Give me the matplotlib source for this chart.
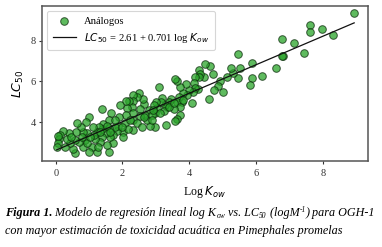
import matplotlib
matplotlib.use("Agg")
import matplotlib.pyplot as plt
import numpy as np

log_kow = [8.94, 8.30, 7.97, 7.63, 7.63, 7.44, 7.14, 6.79, 6.80, 6.77, 6.59, 6.18, 5.88, 5.89, 5.82,
           5.46, 5.52, 5.45, 5.32, 5.24, 5.01, 5.12, 4.92, 4.87, 4.74, 4.71, 4.62, 4.60, 4.48, 4.43,
           4.30, 4.31, 4.30, 4.25, 4.16, 4.13, 4.17, 4.11, 4.09, 3.99, 3.93, 3.89, 3.81, 3.79, 3.73,
           3.63, 3.58, 3.68, 3.63, 3.71, 3.71, 3.63, 3.58, 3.53, 3.45, 3.38, 3.33, 3.27, 3.23, 3.19,
           3.15, 3.10, 3.03, 3.01, 2.98, 2.93, 3.31, 2.98, 2.81, 2.73, 2.78, 2.68, 2.65, 2.61, 2.53,
           2.53, 2.48, 2.43, 2.33, 2.31, 2.28, 2.33, 2.31, 2.33, 2.21, 2.13, 2.11, 2.11, 2.08, 2.03,
           2.03, 1.93, 1.91, 1.88, 1.85, 1.78, 1.73, 1.71, 1.65, 1.61, 1.61, 1.63, 1.61, 1.53, 1.51,
           1.43, 1.39, 1.39, 1.38, 1.33, 1.30, 1.23, 1.18, 1.23, 1.13, 1.15, 1.09, 1.01, 1.01, 0.95,
           0.91, 0.88, 0.83, 0.81, 0.75, 0.71, 0.63, 0.61, 0.58, 0.58, 0.51, 0.43, 0.41, 0.33, 0.29,
           0.21, 0.13, 0.11, 0.08, 0.03, 0.08,
           0.78, 0.95, 1.28, 1.53, 1.78, 2.23, 2.43, 2.65, 2.88, 3.13, 2.91, 3.38, 3.53, 3.81, 2.88,
           2.58, 2.18, 1.98, 1.33, 1.63, 1.03, 0.45]
lc50 = [9.34, 8.30, 8.57, 8.79, 8.44, 7.41, 7.87, 8.07, 7.26, 7.25, 6.67, 6.26, 6.89, 6.16, 5.82,
        7.34, 6.66, 6.16, 6.43, 6.66, 5.49, 6.20, 6.03, 5.77, 5.56, 6.36, 6.75, 5.13, 6.85, 6.20,
        6.56, 6.36, 6.20, 5.61, 6.20, 5.93, 5.67, 5.47, 4.95, 5.57, 5.31, 5.87, 5.41, 5.00, 5.70,
        6.03, 6.10, 5.25, 4.98, 4.75, 4.36, 4.13, 4.07, 4.62, 5.15, 5.00, 4.72, 4.84, 4.56, 5.16,
        5.00, 5.70, 4.67, 5.00, 4.43, 4.84, 3.85, 3.77, 3.80, 4.10, 4.59, 4.34, 4.89, 5.11, 4.62,
        4.30, 5.44, 5.25, 5.33, 5.05, 4.75, 4.46, 4.10, 3.61, 5.05, 4.67, 4.34, 5.02, 3.97, 3.52,
        3.28, 4.82, 4.26, 3.80, 3.57, 3.77, 3.36, 2.98, 4.43, 4.10, 3.69, 3.28, 2.54, 2.87, 3.48,
        3.90, 4.62, 3.64, 3.28, 3.03, 3.77, 3.52, 3.15, 2.54, 3.77, 3.36, 2.79, 2.54, 4.23, 3.48,
        4.02, 3.11, 2.79, 3.52, 3.74, 3.03, 3.93, 3.52, 3.11, 2.46, 2.66, 2.95, 3.44, 3.15, 2.79,
        3.57, 3.36, 3.15, 2.95, 2.79, 3.31,
        3.28, 2.95, 2.79, 3.80, 4.10, 4.10, 3.93, 4.26, 4.34, 4.43, 4.59, 4.75, 4.92, 5.08, 4.10,
        3.77, 3.64, 3.77, 3.52, 3.52, 3.28, 3.28]

intercept = 2.61
slope = 0.701
x_ticks = [0, 2, 4, 6, 8]
y_ticks = [4, 6, 8]

plt.rcParams['font.family'] = ['Liberation Serif', 'DejaVu Serif']

fig = plt.figure(figsize=(3.82, 2.47), dpi=100)
ax = fig.add_axes([0.110, 0.348, 0.853, 0.628])

ax.scatter(log_kow, lc50, s=30, color='#2aa42a', alpha=0.75, edgecolors='#0a2a0a',
           linewidths=0.7, label='Análogos', zorder=2)
xl = np.linspace(min(log_kow), max(log_kow), 50)
ax.plot(xl, intercept + slope * xl, color='#111111', lw=0.9, zorder=3,
        label=r'$LC_{50}$ = 2.61 + 0.701 log $K_{ow}$')

ax.set_xlim(-0.41, 9.35)
ax.set_ylim(2.08, 9.71)
ax.set_xticks(x_ticks)
ax.set_yticks(y_ticks)
ax.tick_params(labelsize=7.5, length=2.5, width=0.8, colors='#333333', pad=2)
ax.tick_params(axis='x', pad=3.5)
for sp in ax.spines.values():
    sp.set_color('#555555')
    sp.set_linewidth(1.1)
ax.set_xlabel(r'Log $K_{ow}$', fontsize=8.5, labelpad=4)
ax.set_ylabel(r'$LC_{50}$', fontsize=9, labelpad=3)

leg = ax.legend(loc='upper left', fontsize=7.6, frameon=True, borderaxespad=0.5,
                handlelength=2.2, labelspacing=0.5, borderpad=0.5)
leg.get_frame().set_edgecolor('#cccccc')
leg.get_frame().set_linewidth(0.8)

cap_fs = 8.75
sub_fs = cap_fs * 0.62
x0 = 0.013
y1 = 1 - 216 / 247
H = fig.bbox.height
W = fig.bbox.width

pieces = [
    ('Figura 1.', cap_fs, 'bold', 0.0),
    (' Modelo de regresión lineal log K', cap_fs, 'normal', 0.0),
    ('ow', sub_fs, 'normal', -2.0),
    (' vs. LC', cap_fs, 'normal', 0.0),
    ('50', sub_fs, 'normal', -2.0),
    (' (logM', cap_fs, 'normal', 0.0),
    ('-1', sub_fs, 'normal', 4.0),
    (') para OGH-1', cap_fs, 'normal', 0.0),
]
renderer = fig.canvas.get_renderer()
xcur = x0
for txt, fs, fw, dy in pieces:
    t = fig.text(xcur, y1 + dy / H, txt, fontsize=fs, fontweight=fw, fontstyle='italic',
                 va='baseline', ha='left')
    bb = t.get_window_extent(renderer=renderer)
    xcur = bb.x1 / W

fig.text(x0, 1 - 234 / 247, 'con mayor estimación de toxicidad acuática en Pimephales promelas',
         fontsize=cap_fs, fontstyle='italic', va='baseline', ha='left')

fig.savefig('out.png', dpi=100)
